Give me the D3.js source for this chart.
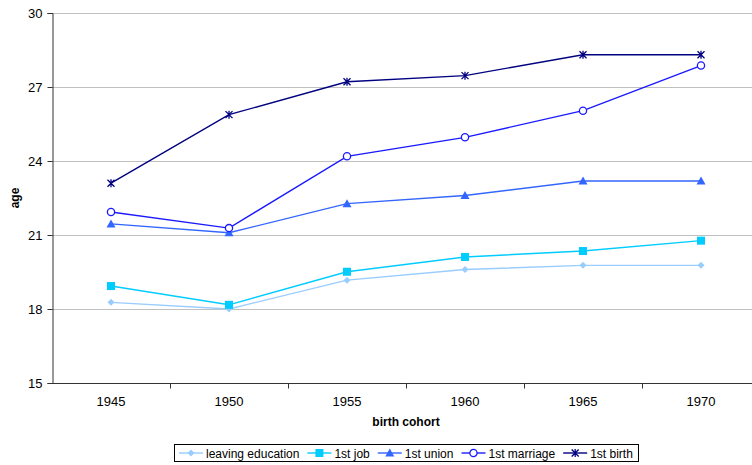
<!DOCTYPE html>
<html>
<head>
<meta charset="utf-8">
<script src="https://cdn.jsdelivr.net/npm/d3@7"></script>
<style>
  html, body { margin: 0; padding: 0; background: #fff; }
  svg { display: block; font-family: "Liberation Sans", Arial, sans-serif; }
</style>
</head>
<body>
<svg id="chart" width="752" height="465"></svg>
<script>
// Median age at life-course transitions by birth cohort
const cohorts = ["1945", "1950", "1955", "1960", "1965", "1970"];
const yTicks = [15, 18, 21, 24, 27, 30];

const leavingEducation = [18.27, 18.0, 19.17, 19.6, 19.77, 19.77];
const firstJob        = [18.93, 18.17, 19.51, 20.11, 20.35, 20.77];
const firstUnion      = [21.45, 21.09, 22.27, 22.6, 23.19, 23.19];
const firstMarriage   = [21.93, 21.28, 24.19, 24.96, 26.04, 27.87];
const firstBirth      = [23.1, 25.88, 27.21, 27.46, 28.31, 28.31];

const seriesNames = ["leaving education", "1st job", "1st union", "1st marriage", "1st birth"];

const series = [
  { name: seriesNames[0], values: leavingEducation, color: "#99ccff", marker: "diamond" },
  { name: seriesNames[1], values: firstJob,         color: "#00ccff", marker: "square" },
  { name: seriesNames[2], values: firstUnion,       color: "#3366ff", marker: "triangle" },
  { name: seriesNames[3], values: firstMarriage,    color: "#1a1aff", marker: "circle" },
  { name: seriesNames[4], values: firstBirth,       color: "#000080", marker: "star" }
];

const svg = d3.select("#chart");
const plot = { left: 52, right: 760, top: 13, bottom: 383 };

const x = d3.scaleBand().domain(cohorts).range([plot.left, plot.right]);
const y = d3.scaleLinear().domain([15, 30]).range([plot.bottom, plot.top]);

// horizontal gridlines
svg.append("g")
  .selectAll("line")
  .data(yTicks.filter(t => t !== 15))
  .join("line")
  .attr("x1", plot.left).attr("x2", 752)
  .attr("y1", d => y(d) + 0.5).attr("y2", d => y(d) + 0.5)
  .attr("stroke", "#c0c0c0").attr("stroke-width", 1);

// y axis
const yAxis = svg.append("g")
  .attr("transform", `translate(${plot.left + 0.5},0)`)
  .call(d3.axisLeft(y).tickValues(yTicks).tickSize(5).tickPadding(5).tickFormat(d3.format("d")));
yAxis.select(".domain").attr("stroke", "#333");
yAxis.selectAll(".tick line").attr("stroke", "#333");
yAxis.selectAll(".tick text").attr("font-size", 13).attr("fill", "#000")
  .attr("font-family", "Liberation Sans, Arial, sans-serif");

// x axis with ticks at band boundaries
const xAxis = svg.append("g")
  .attr("transform", `translate(0,${plot.bottom + 0.5})`);
xAxis.append("line")
  .attr("x1", plot.left).attr("x2", 752)
  .attr("stroke", "#333");
xAxis.selectAll("line.tk")
  .data(cohorts.slice(1))
  .join("line").attr("class", "tk")
  .attr("x1", d => Math.round(x(d)) + 0.5).attr("x2", d => Math.round(x(d)) + 0.5)
  .attr("y1", 0).attr("y2", 5)
  .attr("stroke", "#333");
xAxis.selectAll("text")
  .data(cohorts)
  .join("text")
  .attr("x", d => x(d) + x.bandwidth() / 2)
  .attr("y", 22)
  .attr("text-anchor", "middle")
  .attr("font-size", 13)
  .text(d => d);

// axis titles
svg.append("text")
  .attr("x", (plot.left + plot.right) / 2).attr("y", 426)
  .attr("text-anchor", "middle")
  .attr("font-size", 12).attr("font-weight", "bold")
  .text("birth cohort");
svg.append("text")
  .attr("transform", `translate(19,${(plot.top + plot.bottom) / 2}) rotate(-90)`)
  .attr("text-anchor", "middle")
  .attr("font-size", 12).attr("font-weight", "bold")
  .text("age");

// marker drawing helper
function drawMarker(g, type, color, cx, cy) {
  if (type === "diamond") {
    const r = 3.5;
    g.append("path").attr("d", `M${cx},${cy - r}L${cx + r},${cy}L${cx},${cy + r}L${cx - r},${cy}Z`)
      .attr("fill", color);
  } else if (type === "square") {
    g.append("rect").attr("x", cx - 4).attr("y", cy - 4).attr("width", 8).attr("height", 8)
      .attr("fill", color);
  } else if (type === "triangle") {
    g.append("path").attr("d", `M${cx},${cy - 4.5}L${cx + 4.5},${cy + 3.5}L${cx - 4.5},${cy + 3.5}Z`)
      .attr("fill", color);
  } else if (type === "circle") {
    g.append("circle").attr("cx", cx).attr("cy", cy).attr("r", 3.6)
      .attr("fill", "#fff").attr("stroke", color).attr("stroke-width", 1.3);
  } else if (type === "star") {
    const r = 3.5;
    g.append("path")
      .attr("d", `M${cx - r},${cy - r}L${cx + r},${cy + r}M${cx - r},${cy + r}L${cx + r},${cy - r}` +
                 `M${cx},${cy - r - 0.5}L${cx},${cy + r + 0.5}`)
      .attr("stroke", color).attr("stroke-width", 1.3).attr("fill", "none");
  }
}

// series lines and markers
const line = d3.line()
  .x((d, i) => x(cohorts[i]) + x.bandwidth() / 2)
  .y(d => y(d));

series.forEach(s => {
  const g = svg.append("g");
  g.append("path")
    .attr("d", line(s.values))
    .attr("fill", "none")
    .attr("stroke", s.color)
    .attr("stroke-width", 1.4);
  s.values.forEach((v, i) => {
    drawMarker(g, s.marker, s.color, x(cohorts[i]) + x.bandwidth() / 2, y(v));
  });
});

// legend: framed box with one entry per series
const legend = svg.append("g");
const frame = legend.append("rect")
  .attr("fill", "#fff").attr("stroke", "#000").attr("stroke-width", 1);
const entries = legend.append("g");
let cursor = 0;
series.forEach(s => {
  const item = entries.append("g").attr("transform", `translate(${cursor},0)`);
  item.append("line").attr("x1", 0).attr("x2", 24).attr("y1", 0).attr("y2", 0)
    .attr("stroke", s.color).attr("stroke-width", 1.4);
  drawMarker(item, s.marker, s.color, 12, 0);
  const t = item.append("text").attr("x", 27).attr("y", 4.5)
    .attr("font-size", 12).text(s.name);
  cursor += 27 + t.node().getComputedTextLength() + 8;
});
const legendWidth = Math.round(cursor - 8 + 10);
const legendX = Math.round((plot.left + plot.right) / 2 - legendWidth / 2);
frame.attr("x", legendX + 0.5).attr("y", 444.5)
  .attr("width", legendWidth).attr("height", 17);
entries.attr("transform", `translate(${legendX + 5},453)`);
</script>
</body>
</html>
